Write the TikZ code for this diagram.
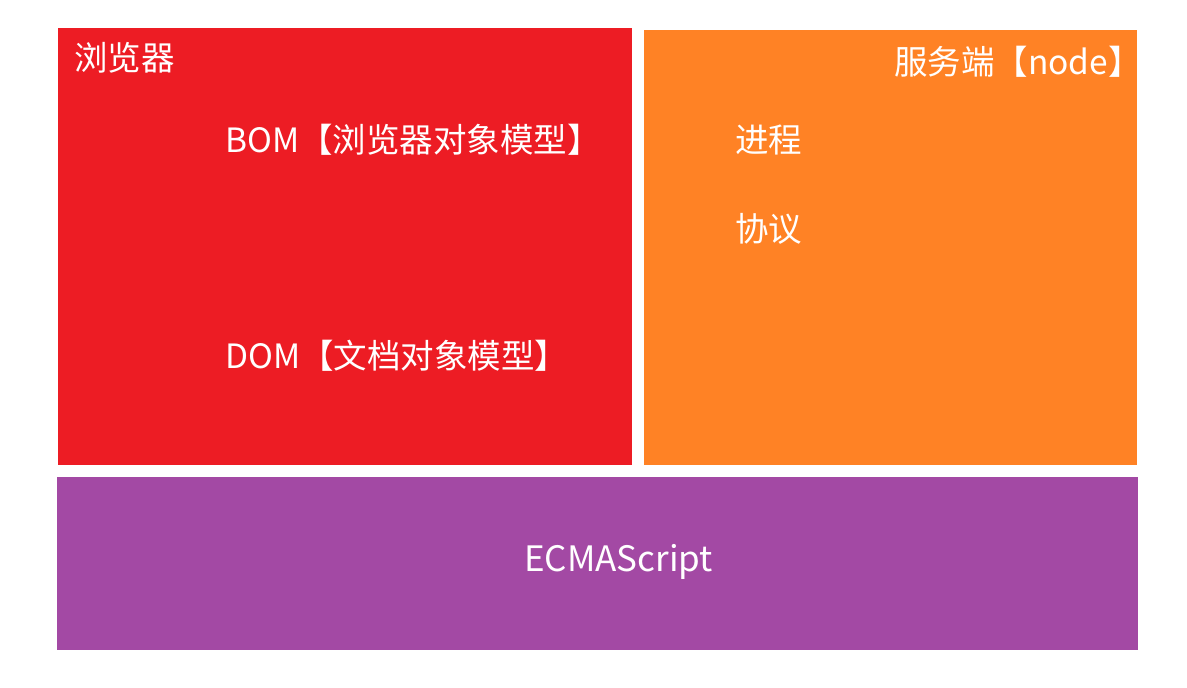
\documentclass[tikz,border=0pt]{standalone}
\usepackage{fontspec}
\setmainfont{Noto Sans CJK SC}
\definecolor{cred}{HTML}{ED1C24}
\definecolor{corange}{HTML}{FF8225}
\definecolor{cpurple}{HTML}{A349A4}
\begin{document}
\begin{tikzpicture}[x=1pt,y=1pt,
  lbl/.style={text=white,inner sep=0,font=\fontsize{33.5}{40}\selectfont}]
\useasboundingbox (0,0) rectangle (1187,688);
\fill[white] (0,0) rectangle (1187,688);
\fill[cred] (58,{688-28}) rectangle (632,{688-465});
\fill[corange] (644,{688-30}) rectangle (1137,{688-465});
\fill[cpurple] (57,{688-477}) rectangle (1138,{688-650});
\node[lbl,anchor=west] (browser) at (74,{688-58}) {浏览器};
\node[lbl,anchor=west] (bom) at (225,{688-140}) {BOM【浏览器对象模型】};
\node[lbl,anchor=west] (dom) at (225,{688-356}) {DOM【文档对象模型】};
\node[lbl,anchor=west] (server) at (894,{688-62}) {服务端【node】};
\node[lbl,anchor=west] (proc) at (735,{688-140}) {进程};
\node[lbl,anchor=west] (proto) at (735,{688-229}) {协议};
\node[lbl,font=\fontsize{35}{42}\selectfont] (ecma) at (618.5,{688-562}) {ECMAScript};
\end{tikzpicture}
\end{document}
